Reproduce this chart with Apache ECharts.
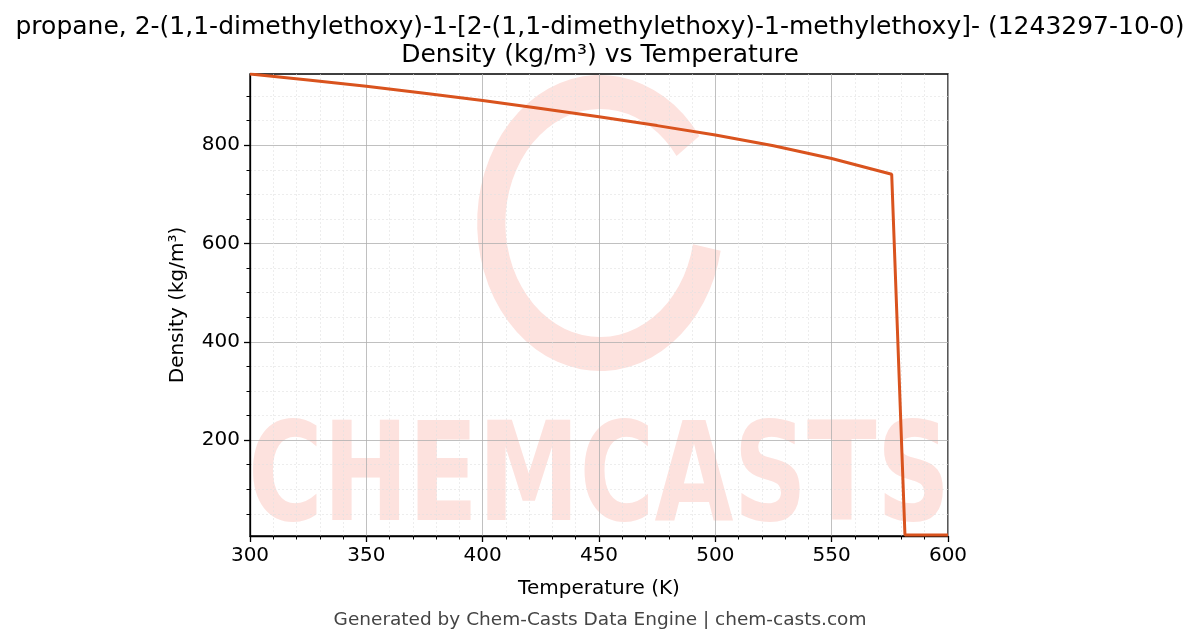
<!DOCTYPE html>
<html>
<head>
<meta charset="utf-8">
<script src="https://cdn.jsdelivr.net/npm/echarts@6/dist/echarts.min.js"></script>
<style>html,body{margin:0;padding:0;background:#fff}#c{width:1200px;height:644px}</style>
</head>
<body>
<div id="c"></div>
<script>
const titleLines = ['propane, 2-(1,1-dimethylethoxy)-1-[2-(1,1-dimethylethoxy)-1-methylethoxy]- (1243297-10-0)', 'Density (kg/m³) vs Temperature'];
const temperatures = [300, 325, 350, 375, 400, 425, 450, 475, 500, 525, 550, 575.8, 581.5, 600];
const densities = [945, 933, 920, 906, 891, 875, 858, 840, 821, 799, 773, 741, 7, 7];
const yMajorTicks = [200, 400, 600, 800];
const yMinorTicks = [50, 100, 150, 250, 300, 350, 450, 500, 550, 650, 700, 750, 850, 900];
const xMin = 300, xMax = 600, xStep = 50;
const yMin = 5, yMax = 945;

const FONT = 'DejaVu Sans';
const chart = echarts.init(document.getElementById('c'), null, {renderer: 'canvas'});
const yCommon = {type: 'value', min: yMin, max: yMax, position: 'left'};
chart.setOption({
  animation: false,
  backgroundColor: '#fff',
  textStyle: {fontFamily: FONT},
  title: {
    text: titleLines.join('\n'),
    left: 'center', top: 8,
    textStyle: {fontFamily: FONT, fontSize: 25, fontWeight: 'normal', color: '#000', lineHeight: 28}
  },
  graphic: [
    {type: 'sector', z: -10, silent: true, x: 600, y: 223, scaleX: 0.83,
      shape: {cx: 0, cy: 0, r: 148, r0: 114, startAngle: -Math.PI * 0.2, endAngle: Math.PI * 0.06, clockwise: false},
      style: {fill: '#fde2de'}},
    {type: 'text', z: -10, silent: true, x: 248, y: 416, scaleX: 0.745,
      style: {text: 'CHEMCASTS', font: 'bold 137px "DejaVu Sans", sans-serif', fill: '#fde2de', textVerticalAlign: 'top'}},
    {type: 'text', left: 'center', top: 611, style: {text: 'Generated by Chem-Casts Data Engine | chem-casts.com', font: '18.5px "DejaVu Sans"', fill: '#444'}}
  ],
  grid: {left: 250, right: 252, top: 74, bottom: 108, show: true, borderColor: '#000', borderWidth: 1.3, backgroundColor: 'transparent'},
  xAxis: {
    type: 'value', min: xMin, max: xMax, interval: xStep,
    name: 'Temperature (K)', nameLocation: 'middle', nameGap: 43,
    nameTextStyle: {fontFamily: FONT, fontSize: 20, color: '#000'},
    axisLine: {show: true, lineStyle: {color: '#000', width: 1.3}},
    axisTick: {show: true, length: 6, inside: false, lineStyle: {color: '#000', width: 1.3}},
    minorTick: {show: true, splitNumber: 5, length: 3.5, lineStyle: {color: '#000', width: 1}},
    axisLabel: {fontFamily: FONT, fontSize: 20, color: '#000', margin: 10},
    splitLine: {show: true, lineStyle: {color: '#b0b0b0', width: 0.8}},
    minorSplitLine: {show: true, lineStyle: {color: '#e2e2e2', width: 0.6, type: [2, 2]}}
  },
  yAxis: [
    Object.assign({}, yCommon, {
      name: 'Density (kg/m³)', nameLocation: 'middle', nameGap: 62,
      nameTextStyle: {fontFamily: FONT, fontSize: 20, color: '#000'},
      axisLine: {show: true, lineStyle: {color: '#000', width: 1.3}},
      axisTick: {show: true, length: 6, customValues: yMajorTicks, lineStyle: {color: '#000', width: 1.3}},
      axisLabel: {fontFamily: FONT, fontSize: 20, color: '#000', margin: 10, customValues: yMajorTicks},
      splitLine: {show: true, lineStyle: {color: '#b0b0b0', width: 0.8}}
    }),
    Object.assign({}, yCommon, {
      axisLine: {show: false},
      axisTick: {show: true, length: 3.5, customValues: yMinorTicks, lineStyle: {color: '#000', width: 1}},
      axisLabel: {show: false, customValues: yMinorTicks},
      splitLine: {show: true, lineStyle: {color: '#e2e2e2', width: 0.6, type: [2, 2]}}
    })
  ],
  series: [{
    type: 'line', yAxisIndex: 0, showSymbol: false, symbol: 'none',
    data: temperatures.map((t, i) => [t, densities[i]]),
    lineStyle: {color: '#d9531e', width: 3}, z: 5
  }]
});
</script>
</body>
</html>
